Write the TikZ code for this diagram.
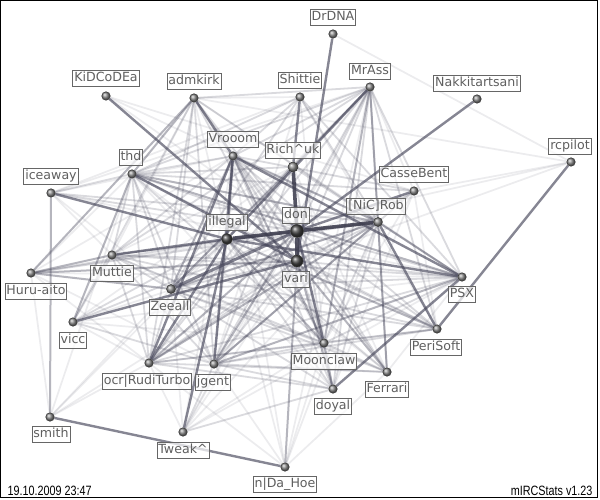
\documentclass[tikz,border=0pt]{standalone}
\usepackage{fontspec}
\usepackage{tikz}
\usetikzlibrary{positioning,calc,backgrounds}
\newfontfamily\tagfont{DejaVu Sans}
\newfontfamily\stampfont[FakeStretch=0.8]{Liberation Sans}
\definecolor{edgecol}{RGB}{72,72,92}
\definecolor{tagcol}{RGB}{95,95,95}

\begin{document}
\begin{tikzpicture}[x=1pt, y=-1pt]
		\tikzstyle{ball}=[circle, inner sep=0pt, minimum size=8.5pt, draw=black!80,
		line width=0.5pt, shading=ball, ball color=black!45]
		\tikzstyle{bigball}=[ball, ball color=black!72]
		\tikzstyle{tag}=[draw=black!60, line width=0.9pt, text=tagcol, fill=white,
		fill opacity=0.7, text opacity=1, draw opacity=1,
		font={\tagfont\fontsize{12.6pt}{14pt}\selectfont}, inner xsep=1.4pt,
		inner ysep=2pt, text height=9.4pt, text depth=2.6pt]
		\tikzstyle{edgeheavy}=[draw=edgecol!85!black, line width=3.6pt, opacity=0.88]
		\tikzstyle{edgedark}=[draw=edgecol, line width=2.4pt, opacity=0.66]
		\tikzstyle{edgemid}=[draw=edgecol, line width=2pt, opacity=0.4]
		\tikzstyle{edgelight}=[draw=edgecol, line width=1.8pt, opacity=0.2]
		\tikzstyle{edgefaint}=[draw=edgecol, line width=1.7pt, opacity=0.1]
		
		\useasboundingbox (0,0) rectangle (600,500);
		
		\node [ball] (kidcodea) at (106,96) {}; \node [ball] (admkirk) at (194,98) {};
		\node [ball] (shittie) at (300,97) {}; \node [ball] (drdna) at (333,34) {};
		\node [ball] (mrass) at (370,87) {}; \node [ball] (nakki) at (477,99) {};
		\node [ball] (rcpilot) at (571,162) {}; \node [ball] (vrooom) at (233,156) {};
		\node [ball, minimum size=10pt] (richuk) at (293,167) {};
		\node [ball] (thd) at (132,174) {}; \node [ball] (iceaway) at (51,193) {};
		\node [ball] (cassebent) at (414,191) {};
		\node [bigball, minimum size=11pt] (illegal) at (227,239) {};
		\node [bigball, minimum size=13pt] (don) at (297,231) {};
		\node [ball, minimum size=9pt] (nicrob) at (378,222) {};
		\node [bigball, minimum size=12pt] (vari) at (297,261) {};
		\node [ball] (muttie) at (112,255) {}; \node [ball] (huru) at (31,273) {};
		\node [ball, minimum size=9pt] (zeeall) at (171,289) {};
		\node [ball] (psx) at (462,277) {}; \node [ball] (vicc) at (73,322) {};
		\node [ball] (perisoft) at (437,329) {}; \node [ball] (ocr) at (149,363) {};
		\node [ball] (jgent) at (214,364) {}; \node [ball] (moonclaw) at (324,343) {};
		\node [ball] (ferrari) at (387,372) {}; \node [ball] (doyal) at (333,389) {};
		\node [ball] (smith) at (50,417) {}; \node [ball] (tweak) at (183,432) {};
		\node [ball] (dahoe) at (285,467) {};
		
		\node [tag] (kidcodea-t) at ($(kidcodea)+(0,-18)$) {KiDCoDEa};
		\node [tag] (admkirk-t) at ($(admkirk)+(0,-17)$) {admkirk};
		\node [tag] (shittie-t) at ($(shittie)+(0,-17)$) {Shittie};
		\node [tag] (drdna-t) at ($(drdna)+(0,-17)$) {DrDNA};
		\node [tag] (mrass-t) at ($(mrass)+(0,-16)$) {MrAss};
		\node [tag] (nakki-t) at ($(nakki)+(0,-16)$) {Nakkitartsani};
		\node [tag] (rcpilot-t) at ($(rcpilot)+(-1,-16)$) {rcpilot};
		\node [tag] (vrooom-t) at ($(vrooom)+(0,-17)$) {Vrooom};
		\node [tag] (richuk-t) at ($(richuk)+(0,-17)$) {Rich\textasciicircum uk};
		\node [tag] (thd-t) at ($(thd)+(-1,-17)$) {thd};
		\node [tag] (iceaway-t) at ($(iceaway)+(0,-17)$) {iceaway};
		\node [tag] (cassebent-t) at ($(cassebent)+(0,-17)$) {CasseBent};
		\node [tag] (illegal-t) at ($(illegal)+(0,-17)$) {illegal};
		\node [tag] (don-t) at ($(don)+(-1,-16)$) {don};
		\node [tag] (nicrob-t) at ($(nicrob)+(-2,-16)$) {[NiC]Rob};
		\node [tag] (vari-t) at ($(vari)+(-1,18)$) {vari};
		\node [tag] (muttie-t) at ($(muttie)+(0,18)$) {Muttie};
		\node [tag] (huru-t) at ($(huru)+(5,18)$) {Huru-aito};
		\node [tag] (zeeall-t) at ($(zeeall)+(-1,18)$) {Zeeall};
		\node [tag] (psx-t) at ($(psx)+(0,17)$) {PSX};
		\node [tag] (vicc-t) at ($(vicc)+(0,18)$) {vicc};
		\node [tag] (perisoft-t) at ($(perisoft)+(-1,18)$) {PeriSoft};
		\node [tag] (ocr-t) at ($(ocr)+(-2,18)$) {ocr|RudiTurbo};
		\node [tag] (jgent-t) at ($(jgent)+(-1,18)$) {jgent};
		\node [tag] (moonclaw-t) at ($(moonclaw)+(0,18)$) {Moonclaw};
		\node [tag] (ferrari-t) at ($(ferrari)+(0,17)$) {Ferrari};
		\node [tag] (doyal-t) at ($(doyal)+(0,17)$) {doyal};
		\node [tag] (smith-t) at ($(smith)+(1,17)$) {smith};
		\node [tag] (tweak-t) at ($(tweak)+(0,18)$) {Tweak\textasciicircum};
		\node [tag] (dahoe-t) at ($(dahoe)+(0,17)$) {n|Da\_Hoe};
		
		\node [anchor=west, font={\stampfont\fontsize{13.5pt}{15pt}\selectfont}] (stamp)
		at (4,491) {19.10.2009 23:47};
		\node [anchor=east, font={\stampfont\fontsize{13.5pt}{15pt}\selectfont}] (version)
		at (596,491) {mIRCStats v1.23};
		\draw [black, line width=1pt] (0.5,0.5) rectangle (597.5,497.5);
		
		\begin{scope}[on background layer]
		\fill [white] (0,0) rectangle (600,500);
		
		\draw [edgefaint] (kidcodea) to (cassebent); \draw [edgefaint] (kidcodea) to (nicrob);
		\draw [edgefaint] (admkirk) to (shittie); \draw [edgefaint] (admkirk) to (rcpilot);
		\draw [edgefaint] (admkirk) to (psx); \draw [edgefaint] (admkirk) to (vari);
		\draw [edgefaint] (admkirk) to (muttie); \draw [edgefaint] (admkirk) to (illegal);
		\draw [edgefaint] (admkirk) to (ferrari); \draw [edgefaint] (shittie) to (iceaway);
		\draw [edgefaint] (shittie) to (jgent); \draw [edgefaint] (shittie) to (moonclaw);
		\draw [edgefaint] (shittie) to (perisoft); \draw [edgefaint] (mrass) to (iceaway);
		\draw [edgefaint] (mrass) to (cassebent); \draw [edgefaint] (mrass) to (tweak);
		\draw [edgefaint] (mrass) to (dahoe); \draw [edgefaint] (drdna) to (rcpilot);
		\draw [edgefaint] (rcpilot) to (illegal); \draw [edgefaint] (rcpilot) to (vari);
		\draw [edgefaint] (rcpilot) to (cassebent); \draw [edgefaint] (vrooom) to (tweak);
		\draw [edgefaint] (vrooom) to (huru); \draw [edgefaint] (vrooom) to (iceaway);
		\draw [edgefaint] (vrooom) to (dahoe); \draw [edgefaint] (richuk) to (muttie);
		\draw [edgefaint] (richuk) to (vicc); \draw [edgefaint] (richuk) to (ferrari);
		\draw [edgefaint] (thd) to (huru); \draw [edgefaint] (thd) to (ferrari);
		\draw [edgefaint] (thd) to (smith); \draw [edgefaint] (thd) to (doyal);
		\draw [edgefaint] (iceaway) to (muttie); \draw [edgefaint] (iceaway) to (zeeall);
		\draw [edgefaint] (iceaway) to (psx); \draw [edgefaint] (cassebent) to (perisoft);
		\draw [edgefaint] (cassebent) to (zeeall); \draw [edgefaint] (cassebent) to (vari);
		\draw [edgefaint] (cassebent) to (moonclaw); \draw [edgefaint] (cassebent) to (doyal);
		\draw [edgefaint] (illegal) to (smith); \draw [edgefaint] (illegal) to (dahoe);
		\draw [edgefaint] (don) to (huru); \draw [edgefaint] (don) to (tweak);
		\draw [edgefaint] (nicrob) to (vicc); \draw [edgefaint] (nicrob) to (tweak);
		\draw [edgefaint] (nicrob) to (dahoe); \draw [edgefaint] (vari) to (tweak);
		\draw [edgefaint] (vari) to (smith); \draw [edgefaint] (huru) to (ocr);
		\draw [edgefaint] (huru) to (jgent); \draw [edgefaint] (huru) to (psx);
		\draw [edgefaint] (huru) to (smith); \draw [edgefaint] (zeeall) to (smith);
		\draw [edgefaint] (zeeall) to (tweak); \draw [edgefaint] (psx) to (ferrari);
		\draw [edgefaint] (vicc) to (ocr); \draw [edgefaint] (vicc) to (moonclaw);
		\draw [edgefaint] (vicc) to (psx); \draw [edgefaint] (ocr) to (tweak);
		\draw [edgefaint] (ocr) to (dahoe); \draw [edgefaint] (ocr) to (smith);
		\draw [edgefaint] (jgent) to (dahoe); \draw [edgefaint] (moonclaw) to (tweak);
		\draw [edgefaint] (moonclaw) to (dahoe); \draw [edgefaint] (ferrari) to (muttie);
		\draw [edgefaint] (ferrari) to (dahoe); \draw [edgefaint] (tweak) to (psx);
		\draw [edgefaint] (kidcodea) to (don);
		
		\draw [edgelight] (admkirk) to (mrass); \draw [edgelight] (admkirk) to (zeeall);
		\draw [edgelight] (admkirk) to (ocr); \draw [edgelight] (admkirk) to (jgent);
		\draw [edgelight] (admkirk) to (moonclaw); \draw [edgelight] (admkirk) to (nicrob);
		\draw [edgelight] (admkirk) to (don); \draw [edgelight] (admkirk) to (vicc);
		\draw [edgelight] (shittie) to (thd); \draw [edgelight] (shittie) to (vrooom);
		\draw [edgelight] (shittie) to (nicrob); \draw [edgelight] (shittie) to (psx);
		\draw [edgelight] (shittie) to (zeeall); \draw [edgelight] (mrass) to (doyal);
		\draw [edgelight] (mrass) to (perisoft); \draw [edgelight] (mrass) to (psx);
		\draw [edgelight] (mrass) to (thd); \draw [edgelight] (mrass) to (vrooom);
		\draw [edgelight] (mrass) to (zeeall); \draw [edgelight] (mrass) to (jgent);
		\draw [edgelight] (mrass) to (ocr); \draw [edgelight] (mrass) to (don);
		\draw [edgelight] (mrass) to (vari); \draw [edgelight] (mrass) to (nicrob);
		\draw [edgelight] (mrass) to (muttie); \draw [edgelight] (vrooom) to (thd);
		\draw [edgelight] (vrooom) to (muttie); \draw [edgelight] (vrooom) to (cassebent);
		\draw [edgelight] (vrooom) to (don); \draw [edgelight] (vrooom) to (vari);
		\draw [edgelight] (vrooom) to (perisoft); \draw [edgelight] (vrooom) to (ferrari);
		\draw [edgelight] (vrooom) to (doyal); \draw [edgelight] (richuk) to (thd);
		\draw [edgelight] (richuk) to (ocr); \draw [edgelight] (richuk) to (jgent);
		\draw [edgelight] (richuk) to (moonclaw); \draw [edgelight] (richuk) to (psx);
		\draw [edgelight] (thd) to (iceaway); \draw [edgelight] (thd) to (cassebent);
		\draw [edgelight] (thd) to (don); \draw [edgelight] (thd) to (moonclaw);
		\draw [edgelight] (thd) to (perisoft); \draw [edgelight] (thd) to (jgent);
		\draw [edgelight] (thd) to (ocr); \draw [edgelight] (thd) to (zeeall);
		\draw [edgelight] (thd) to (muttie); \draw [edgelight] (iceaway) to (nicrob);
		\draw [edgelight] (iceaway) to (don); \draw [edgelight] (cassebent) to (jgent);
		\draw [edgelight] (cassebent) to (ocr); \draw [edgelight] (illegal) to (jgent);
		\draw [edgelight] (illegal) to (ferrari); \draw [edgelight] (illegal) to (doyal);
		\draw [edgelight] (illegal) to (huru); \draw [edgelight] (illegal) to (vicc);
		\draw [edgelight] (illegal) to (nicrob); \draw [edgelight] (illegal) to (richuk);
		\draw [edgelight] (illegal) to (zeeall); \draw [edgelight] (don) to (psx);
		\draw [edgelight] (don) to (perisoft); \draw [edgelight] (don) to (ferrari);
		\draw [edgelight] (don) to (doyal); \draw [edgelight] (don) to (muttie);
		\draw [edgelight] (don) to (vicc); \draw [edgelight] (nicrob) to (muttie);
		\draw [edgelight] (nicrob) to (moonclaw); \draw [edgelight] (nicrob) to (ferrari);
		\draw [edgelight] (nicrob) to (doyal); \draw [edgelight] (nicrob) to (huru);
		\draw [edgelight] (nicrob) to (vari); \draw [edgelight] (vari) to (zeeall);
		\draw [edgelight] (vari) to (ocr); \draw [edgelight] (vari) to (jgent);
		\draw [edgelight] (vari) to (moonclaw); \draw [edgelight] (vari) to (psx);
		\draw [edgelight] (vari) to (perisoft); \draw [edgelight] (vari) to (muttie);
		\draw [edgelight] (muttie) to (vicc); \draw [edgelight] (muttie) to (zeeall);
		\draw [edgelight] (muttie) to (ocr); \draw [edgelight] (muttie) to (jgent);
		\draw [edgelight] (muttie) to (moonclaw); \draw [edgelight] (muttie) to (psx);
		\draw [edgelight] (muttie) to (perisoft); \draw [edgelight] (zeeall) to (jgent);
		\draw [edgelight] (zeeall) to (ocr); \draw [edgelight] (zeeall) to (moonclaw);
		\draw [edgelight] (zeeall) to (perisoft); \draw [edgelight] (zeeall) to (psx);
		\draw [edgelight] (zeeall) to (ferrari); \draw [edgelight] (zeeall) to (doyal);
		\draw [edgelight] (psx) to (ocr); \draw [edgelight] (psx) to (moonclaw);
		\draw [edgelight] (vicc) to (jgent); \draw [edgelight] (perisoft) to (ocr);
		\draw [edgelight] (perisoft) to (jgent); \draw [edgelight] (perisoft) to (moonclaw);
		\draw [edgelight] (ocr) to (moonclaw); \draw [edgelight] (ocr) to (doyal);
		\draw [edgelight] (jgent) to (moonclaw); \draw [edgelight] (jgent) to (ferrari);
		\draw [edgelight] (jgent) to (doyal); \draw [edgelight] (jgent) to (tweak);
		\draw [edgelight] (moonclaw) to (ferrari); \draw [edgelight] (ferrari) to (ocr);
		\draw [edgelight] (tweak) to (doyal);
		
		\draw [edgemid] (admkirk) to (thd); \draw [edgemid] (iceaway) to (smith);
		\draw [edgemid] (huru) to (vari); \draw [edgemid] (huru) to (admkirk);
		\draw [edgemid] (zeeall) to (vrooom); \draw [edgemid] (dahoe) to (vari);
		\draw [edgemid] (mrass) to (richuk); \draw [edgemid] (mrass) to (moonclaw);
		\draw [edgemid] (mrass) to (ferrari); \draw [edgemid] (richuk) to (zeeall);
		\draw [edgemid] (thd) to (nicrob); \draw [edgemid] (thd) to (psx);
		\draw [edgemid] (thd) to (vicc); \draw [edgemid] (vrooom) to (nicrob);
		\draw [edgemid] (vrooom) to (moonclaw); \draw [edgemid] (illegal) to (perisoft);
		\draw [edgemid] (illegal) to (moonclaw); \draw [edgemid] (don) to (ocr);
		\draw [edgemid] (don) to (jgent); \draw [edgemid] (nicrob) to (psx);
		\draw [edgemid] (nicrob) to (ocr); \draw [edgemid] (nicrob) to (jgent);
		\draw [edgemid] (nicrob) to (zeeall); \draw [edgemid] (vari) to (ferrari);
		\draw [edgemid] (vari) to (doyal); \draw [edgemid] (huru) to (zeeall);
		\draw [edgemid] (huru) to (muttie); \draw [edgemid] (jgent) to (psx);
		\draw [edgemid] (moonclaw) to (doyal);
		
		\draw [edgedark] (admkirk) to (vrooom); \draw [edgedark] (kidcodea) to (vari);
		\draw [edgedark, line width=3pt] (zeeall) to (don);
		\draw [edgedark] (vrooom) to (illegal); \draw [edgedark] (drdna) to (vari);
		\draw [edgedark] (nakki) to (don); \draw [edgedark] (mrass) to (illegal);
		\draw [edgedark] (rcpilot) to (perisoft); \draw [edgedark] (psx) to (doyal);
		\draw [edgedark] (smith) to (dahoe); \draw [edgedark] (iceaway) to (illegal);
		\draw [edgedark] (thd) to (vari); \draw [edgedark] (muttie) to (illegal);
		\draw [edgedark] (vicc) to (vari); \draw [edgedark] (tweak) to (illegal);
		\draw [edgedark] (jgent) to (vrooom); \draw [edgedark] (ocr) to (illegal);
		\draw [edgedark] (don) to (moonclaw); \draw [edgedark] (vrooom) to (psx);
		\draw [edgedark] (illegal) to (psx); \draw [edgedark] (nicrob) to (perisoft);
		\draw [edgedark] (cassebent) to (don); \draw [edgedark] (vrooom) to (ocr);
		\draw [edgedark] (shittie) to (richuk);
		
		\draw [edgeheavy] (don) to (richuk); \draw [edgeheavy] (don) to (vari);
		\draw [edgeheavy] (don) to (illegal); \draw [edgeheavy] (don) to (nicrob);
		\end{scope}
	\end{tikzpicture}
\end{document}
